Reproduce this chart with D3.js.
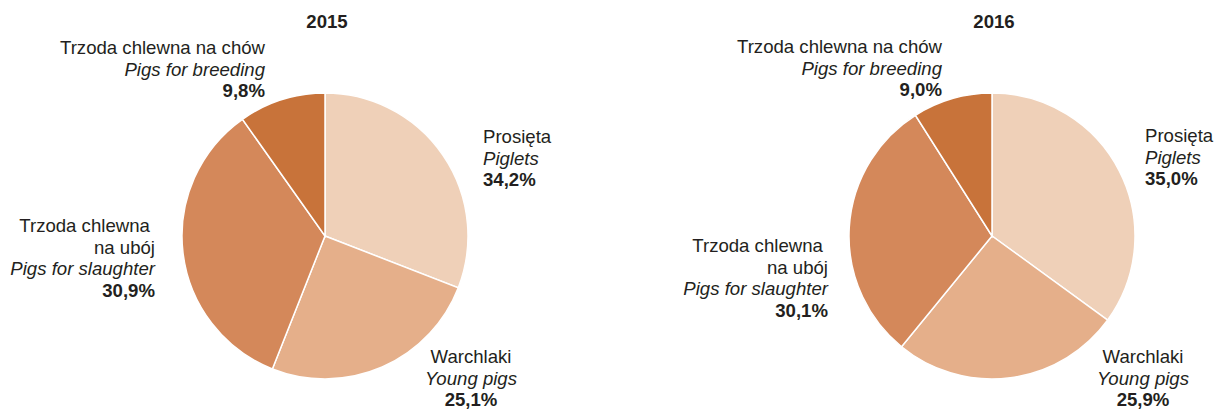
<!DOCTYPE html>
<meta charset="utf-8">
<head>
    <script src="https://d3js.org/d3.v7.min.js"></script>
    <style>
        body { margin: 0; background: #fff; }
        text { font-family: "Liberation Sans", Arial, Helvetica, sans-serif; fill: #231f20; }
    </style>
</head>
<body>
<div id="graph"></div>
<script>
    // data
    var years = ["2015", "2016"];
    var categoriesPl = ["Prosięta", "Warchlaki", "Trzoda chlewna na ubój", "Trzoda chlewna na chów"];
    var categoriesEn = ["Piglets", "Young pigs", "Pigs for slaughter", "Pigs for breeding"];
    // slice sizes as drawn in the picture
    var values2015 = [30.9, 25.1, 34.2, 9.8];
    var values2016 = [35.0, 25.9, 30.1, 9.0];
    // percent labels as printed
    var labels2015 = ["34,2%", "25,1%", "30,9%", "9,8%"];
    var labels2016 = ["35,0%", "25,9%", "30,1%", "9,0%"];
    var colors = ["#efd0b8", "#e5af8a", "#d4885a", "#c8733a"];

    var width = 1217, height = 411;
    var radius = 143;
    var lineH = 21.7;
    var fontSize = "18.6px";

    var svg = d3.select("#graph")
      .append("svg")
        .attr("width", width)
        .attr("height", height);

    var pie = d3.pie().sort(null).value(function(d) { return d; });
    var arc = d3.arc().innerRadius(0).outerRadius(radius);
    var color = d3.scaleOrdinal().domain(d3.range(4)).range(colors);

    // label layout per chart: [x, first baseline, anchor]
    var charts = [
        {cx: 325, cy: 236, year: years[0], values: values2015, labels: labels2015,
         pos: [[483, 143, "start"], [471, 363, "middle"], [155, 232, "end"], [265, 54, "end"]]},
        {cx: 992, cy: 236, year: years[1], values: values2016, labels: labels2016,
         pos: [[1145, 142, "start"], [1143, 363, "middle"], [828, 252, "end"], [942, 53, "end"]]}
    ];

    charts.forEach(function(c) {
        var g = svg.append("g").attr("transform", "translate(" + c.cx + "," + c.cy + ")");

        g.selectAll("path")
            .data(pie(c.values))
            .enter()
            .append("path")
            .attr("d", arc)
            .attr("fill", function(d, i) { return color(i); })
            .attr("stroke", "#fff")
            .attr("stroke-width", 1.5);

        // title
        svg.append("text")
            .attr("x", c.cx + 2)
            .attr("y", 28)
            .attr("text-anchor", "middle")
            .style("font-size", fontSize)
            .style("font-weight", "bold")
            .text(c.year);

        // labels
        categoriesPl.forEach(function(name, i) {
            var p = c.pos[i];
            var lines = [];
            if (i == 2) {
                lines.push({t: "Trzoda chlewna\u00a0", s: "normal", w: "normal"});
                lines.push({t: "na ubój", s: "normal", w: "normal"});
            } else {
                lines.push({t: name, s: "normal", w: "normal"});
            }
            lines.push({t: categoriesEn[i], s: "italic", w: "normal"});
            lines.push({t: c.labels[i], s: "normal", w: "bold"});

            var t = svg.append("text")
                .attr("text-anchor", p[2])
                .style("font-size", fontSize);
            lines.forEach(function(l, k) {
                t.append("tspan")
                    .attr("x", p[0])
                    .attr("y", p[1] + k * lineH)
                    .style("font-style", l.s)
                    .style("font-weight", l.w)
                    .text(l.t);
            });
        });
    });
</script>
</body>
